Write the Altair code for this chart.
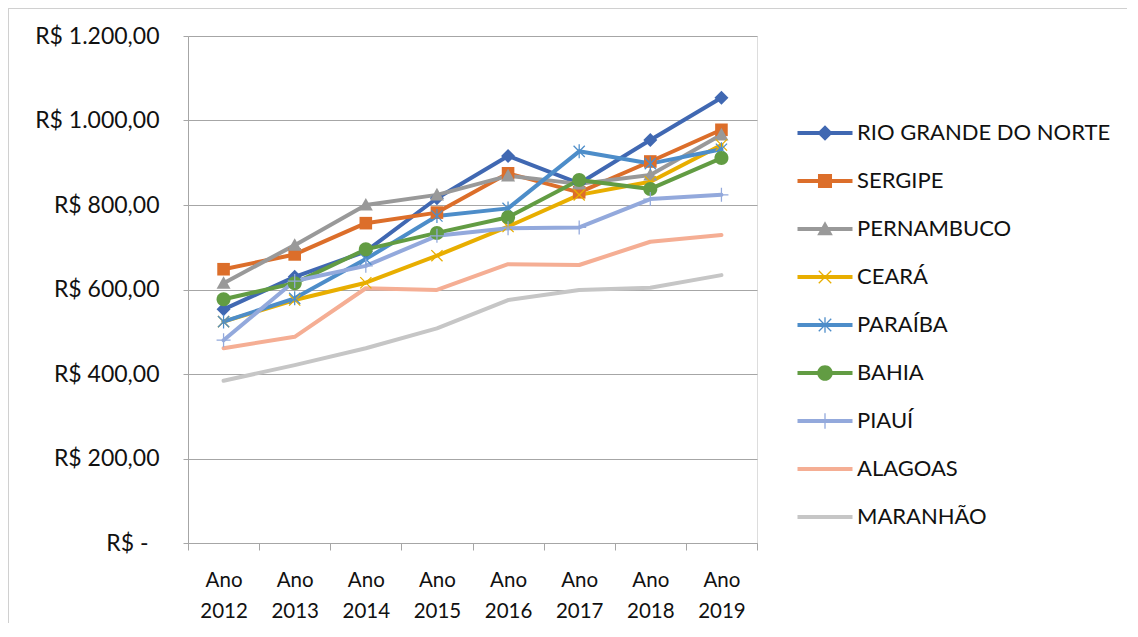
import math
import altair as alt
import pandas as pd

years = ["Ano 2012", "Ano 2013", "Ano 2014", "Ano 2015", "Ano 2016", "Ano 2017", "Ano 2018", "Ano 2019"]
states = ["RIO GRANDE DO NORTE", "SERGIPE", "PERNAMBUCO", "CEARÁ", "PARAÍBA",
          "BAHIA", "PIAUÍ", "ALAGOAS", "MARANHÃO"]
colors = ["#4068B2", "#DC6E2A", "#999999", "#E8AE00", "#4D8DC9",
          "#629C43", "#93A9DC", "#F5AE94", "#C6C6C6"]
markers = ["diamond", "square", "triangle", "x", "asterisk", "circle", "plus", "none", "none"]

rio_grande_do_norte = [553, 630, 690, 816, 916, 851, 954, 1054]
sergipe = [648, 683, 757, 782, 875, 830, 903, 978]
pernambuco = [615, 705, 800, 824, 869, 850, 871, 966]
ceara = [524, 575, 616, 680, 749, 824, 855, 942]
paraiba = [524, 579, 672, 774, 792, 927, 898, 932]
bahia = [577, 615, 695, 734, 771, 859, 838, 911]
piaui = [480, 620, 656, 727, 745, 747, 814, 824]
alagoas = [461, 488, 603, 599, 660, 658, 713, 729]
maranhao = [384, 421, 461, 508, 575, 599, 604, 634]
series = [rio_grande_do_norte, sergipe, pernambuco, ceara, paraiba, bahia, piaui, alagoas, maranhao]

rows = []
for s, vals in zip(states, series):
    for y, v in zip(years, vals):
        rows.append({"estado": s, "ano": y, "valor": v})
df = pd.DataFrame(rows)


# ---- symbol path helpers (fill-only paths, consistent clockwise winding) ----
def poly(pts):
    a = 0
    for i in range(len(pts)):
        x0, y0 = pts[i]
        x1, y1 = pts[(i + 1) % len(pts)]
        a += x0 * y1 - x1 * y0
    if a < 0:
        pts = pts[::-1]
    return "M " + " L ".join(f"{x:.3f} {y:.3f}" for x, y in pts) + " Z"


def bar(p0, p1, t):
    dx, dy = p1[0] - p0[0], p1[1] - p0[1]
    L = math.hypot(dx, dy)
    nx, ny = -dy / L * t, dx / L * t
    return poly([(p0[0] + nx, p0[1] + ny), (p1[0] + nx, p1[1] + ny),
                 (p1[0] - nx, p1[1] - ny), (p0[0] - nx, p0[1] - ny)])


def circle(r):
    return (f"M {-r:.3f} 0 A {r:.3f} {r:.3f} 0 1 1 {r:.3f} 0 "
            f"A {r:.3f} {r:.3f} 0 1 1 {-r:.3f} 0 Z")


def marker(kind, r, t):
    if kind == "diamond":
        return poly([(0, -r), (r, 0), (0, r), (-r, 0)])
    if kind == "square":
        q = 0.9 * r
        return poly([(-q, -q), (q, -q), (q, q), (-q, q)])
    if kind == "triangle":
        return poly([(0, -r), (r, 0.8 * r), (-r, 0.8 * r)])
    if kind == "circle":
        return circle(r)
    d = 0.8 * r
    if kind == "x":
        return bar((-d, -d), (d, d), t) + " " + bar((-d, d), (d, -d), t)
    if kind == "asterisk":
        return (bar((-d, -d), (d, d), t) + " " + bar((-d, d), (d, -d), t) + " "
                + bar((0, -r), (0, r), t))
    if kind == "plus":
        return bar((0, -r), (0, r), t) + " " + bar((-r, 0), (r, 0), t)
    return "M 0 0"


plot_paths = [marker(m, 1.0, 0.09) for m in markers]
legend_line = poly([(-2.75, -0.2), (2.75, -0.2), (2.75, 0.2), (-2.75, 0.2)])
legend_paths = [legend_line + ("" if m == "none" else " " + marker(m, 0.78, 0.065)) for m in markers]

FONT = "Lato"
W, H = 569, 507

x_enc = alt.X("ano:N", sort=years, title=None,
              scale=alt.Scale(type="band", paddingInner=0, paddingOuter=0),
              axis=alt.Axis(labelExpr="split(datum.label, ' ')", labelAngle=0,
                            tickBand="extent", tickSize=7, tickColor="#a6a6a6",
                            domainColor="#a6a6a6", grid=False, labelFont=FONT,
                            labelFontSize=20.5, labelColor="#111111", labelPadding=20,
                            labelLineHeight=31, labelBaseline="top"))
y_enc = alt.Y("valor:Q", title=None,
              scale=alt.Scale(domain=[0, 1200], nice=False),
              axis=alt.Axis(values=[0, 200, 400, 600, 800, 1000, 1200],
                            labelExpr="datum.value == 0 ? 'R$ -' : 'R$ ' + "
                                      "replace(replace(replace(format(datum.value, ',.2f'), ',', '#'), '.', ','), '#', '.')",
                            tickSize=5, tickColor="#a6a6a6", domainColor="#a6a6a6",
                            gridColor="#a6a6a6", gridWidth=1.2, labelFont=FONT,
                            labelFontSize=23, labelColor="#111111",
                            labelPadding={"condition": {"test": "datum.value == 0", "value": 35},
                                          "value": 24}))

color_nolegend = alt.Color("estado:N", scale=alt.Scale(domain=states, range=colors), legend=None)

lines = alt.Chart(df).mark_line(strokeWidth=4, strokeCap="round", strokeJoin="round").encode(
    x=x_enc, y=y_enc, color=color_nolegend, order=alt.Order("ano:N"))

points = alt.Chart(df).mark_point(filled=True, opacity=1, size=196, strokeWidth=0).encode(
    x=x_enc, y=y_enc, color=color_nolegend,
    shape=alt.Shape("estado:N", scale=alt.Scale(domain=states, range=plot_paths), legend=None))

leg = alt.Legend(title=None, orient="none", legendX=626, legendY=86, labelFont=FONT,
                 labelFontSize=22, labelColor="#111111", labelOffset=21, rowPadding=26,
                 symbolSize=400, symbolStrokeWidth=0, padding=0, labelLimit=400)

legend_layer = alt.Chart(df).transform_filter("false").mark_point(
    filled=True, opacity=1, size=400, strokeWidth=0).encode(
    x=x_enc, y=y_enc,
    color=alt.Color("estado:N", scale=alt.Scale(domain=states, range=colors), legend=leg),
    shape=alt.Shape("estado:N", scale=alt.Scale(domain=states, range=legend_paths), legend=leg))

frame = alt.Chart(df).mark_rect(fill="transparent", stroke="#d0d0d0", strokeWidth=1).encode(
    x=alt.value(-179.5), x2=alt.value(W + 400), y=alt.value(-27.5), y2=alt.value(H + 200))

chart = alt.layer(frame, lines, points, legend_layer).resolve_scale(
    color="independent", shape="independent"
).properties(
    width=W, height=H,
    autosize=alt.AutoSizeParams(type="none"),
    padding={"left": 180, "top": 28, "right": 370, "bottom": 80},
).configure_view(stroke=None).configure(background="white")

chart.save("out.html", embed_options={"renderer": "svg", "actions": False})
